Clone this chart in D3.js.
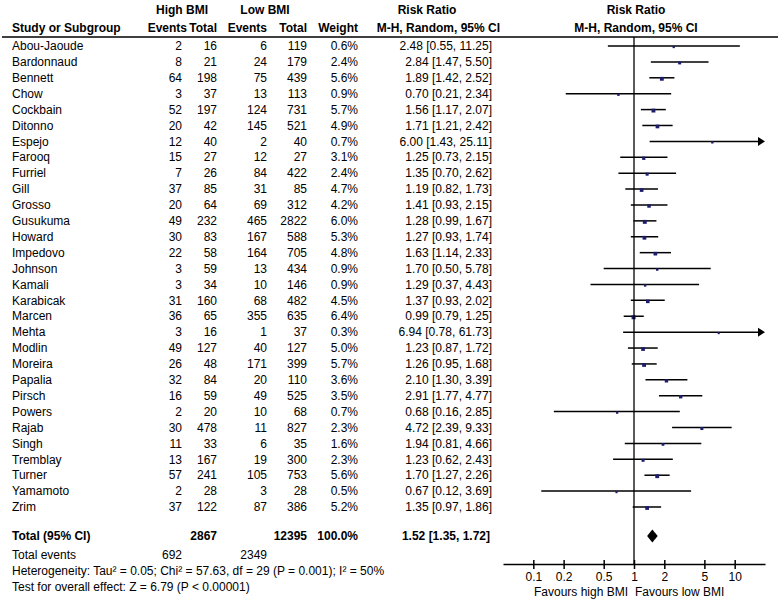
<!DOCTYPE html>
<html><head><meta charset="utf-8">
<script src="https://cdn.jsdelivr.net/npm/d3@7/dist/d3.min.js"></script>
<style>body{margin:0;background:#fff}svg{display:block;font-family:"Liberation Sans",Arial,sans-serif;font-size:12px}</style>
</head><body>
<script>
const studies = ["Abou-Jaoude","Bardonnaud","Bennett","Chow","Cockbain","Ditonno","Espejo","Farooq","Furriel","Gill","Grosso","Gusukuma","Howard","Impedovo","Johnson","Kamali","Karabicak","Marcen","Mehta","Modlin","Moreira","Papalia","Pirsch","Powers","Rajab","Singh","Tremblay","Turner","Yamamoto","Zrim"];
const highEvents = [2,8,64,3,52,20,12,15,7,37,20,49,30,22,3,3,31,36,3,49,26,32,16,2,30,11,13,57,2,37];
const highTotal = [16,21,198,37,197,42,40,27,26,85,64,232,83,58,59,34,160,65,16,127,48,84,59,20,478,33,167,241,28,122];
const lowEvents = [6,24,75,13,124,145,2,12,84,31,69,465,167,164,13,10,68,355,1,40,171,20,49,10,11,6,19,105,3,87];
const lowTotal = [119,179,439,113,731,521,40,27,422,85,312,2822,588,705,434,146,482,635,37,127,399,110,525,68,827,35,300,753,28,386];
const weights = [0.6,2.4,5.6,0.9,5.7,4.9,0.7,3.1,2.4,4.7,4.2,6.0,5.3,4.8,0.9,0.9,4.5,6.4,0.3,5.0,5.7,3.6,3.5,0.7,2.3,1.6,2.3,5.6,0.5,5.2];
const rr = [2.48,2.84,1.89,0.70,1.56,1.71,6.00,1.25,1.35,1.19,1.41,1.28,1.27,1.63,1.70,1.29,1.37,0.99,6.94,1.23,1.26,2.10,2.91,0.68,4.72,1.94,1.23,1.70,0.67,1.35];
const ciLow = [0.55,1.47,1.42,0.21,1.17,1.21,1.43,0.73,0.70,0.82,0.93,0.99,0.93,1.14,0.50,0.37,0.93,0.79,0.78,0.87,0.95,1.30,1.77,0.16,2.39,0.81,0.62,1.27,0.12,0.97];
const ciHigh = [11.25,5.50,2.52,2.34,2.07,2.42,25.11,2.15,2.62,1.73,2.15,1.67,1.74,2.33,5.78,4.43,2.02,1.25,61.73,1.72,1.68,3.39,4.77,2.85,9.33,4.66,2.43,2.26,3.69,1.86];
const total = {rr:1.52, lo:1.35, hi:1.72, highTotal:2867, lowTotal:12395, weight:"100.0%", highEvents:692, lowEvents:2349};
const axisTicks = [0.1,0.2,0.5,1,2,5,10];
const axisTickLabels = ["0.1","0.2","0.5","1","2","5","10"];

const W = 778, H = 600;
const svg = d3.select("body").append("svg").attr("width", W).attr("height", H);

const x = d3.scaleLog().domain([0.05, 20]).range([503, 765]);
const y = d3.scaleLinear().domain([0, studies.length - 1]).range([46, 507]);
const yTotal = 536, yAxis = 564;

const cols = {study:12, he:182, ht:217, le:267, lt:307, w:358, rr:492};

// headers
const hdr = svg.append("g").attr("font-weight", "bold");
hdr.append("text").attr("x", 182).attr("y", 14).attr("text-anchor","middle").text("High BMI");
hdr.append("text").attr("x", 265).attr("y", 14).attr("text-anchor","middle").text("Low BMI");
hdr.append("text").attr("x", 427).attr("y", 14).attr("text-anchor","middle").text("Risk Ratio");
hdr.append("text").attr("x", 636).attr("y", 14).attr("text-anchor","middle").text("Risk Ratio");
hdr.append("text").attr("x", cols.study).attr("y", 32).text("Study or Subgroup");
hdr.append("text").attr("x", 187).attr("y", 32).attr("text-anchor","end").text("Events");
hdr.append("text").attr("x", cols.ht).attr("y", 32).attr("text-anchor","end").text("Total");
hdr.append("text").attr("x", cols.le).attr("y", 32).attr("text-anchor","end").text("Events");
hdr.append("text").attr("x", cols.lt).attr("y", 32).attr("text-anchor","end").text("Total");
hdr.append("text").attr("x", cols.w).attr("y", 32).attr("text-anchor","end").text("Weight");
hdr.append("text").attr("x", 500).attr("y", 32).attr("text-anchor","end").text("M-H, Random, 95% CI");
hdr.append("text").attr("x", 636).attr("y", 32).attr("text-anchor","middle").text("M-H, Random, 95% CI");

svg.append("line").attr("x1", 2).attr("x2", 778).attr("y1", 37).attr("y2", 37).attr("stroke","#000").attr("stroke-width",1.5);

// rows
const rows = svg.append("g").selectAll("g").data(studies).join("g")
  .attr("transform", (d,i) => `translate(0,${y(i)})`);
rows.append("text").attr("x", cols.study).attr("dy","0.35em").text(d => d);
rows.append("text").attr("x", cols.he).attr("dy","0.35em").attr("text-anchor","end").text((d,i)=>highEvents[i]);
rows.append("text").attr("x", cols.ht).attr("dy","0.35em").attr("text-anchor","end").text((d,i)=>highTotal[i]);
rows.append("text").attr("x", cols.le).attr("dy","0.35em").attr("text-anchor","end").text((d,i)=>lowEvents[i]);
rows.append("text").attr("x", cols.lt).attr("dy","0.35em").attr("text-anchor","end").text((d,i)=>lowTotal[i]);
rows.append("text").attr("x", cols.w).attr("dy","0.35em").attr("text-anchor","end").text((d,i)=>weights[i].toFixed(1)+"%");
rows.append("text").attr("x", cols.rr).attr("dy","0.35em").attr("text-anchor","end")
  .text((d,i)=>`${rr[i].toFixed(2)} [${ciLow[i].toFixed(2)}, ${ciHigh[i].toFixed(2)}]`);

// null line
svg.append("line").attr("x1", x(1)).attr("x2", x(1)).attr("y1", 37).attr("y2", yAxis).attr("stroke","#000").attr("stroke-width",1.3);

// CI lines
const [xmin, xmax] = x.domain();
rows.append("line")
  .attr("x1", (d,i)=>x(Math.max(ciLow[i], xmin)))
  .attr("x2", (d,i)=>ciHigh[i] > xmax ? x(xmax) - 6 : x(ciHigh[i]))
  .attr("y1", 0).attr("y2", 0).attr("stroke","#000").attr("stroke-width",1.5);
rows.filter((d,i)=>ciHigh[i] > xmax).append("path")
  .attr("d", `M${x(xmax)},0 L${x(xmax)-7},-4.5 L${x(xmax)-7},4.5 Z`).attr("fill","#000");
const sz = d3.scaleSqrt().domain([0, 6.4]).range([1.5, 4]);
rows.append("rect")
  .attr("x", (d,i)=>x(rr[i]) - sz(weights[i])/2)
  .attr("y", (d,i)=> 1 - sz(weights[i])/2)
  .attr("width", (d,i)=>sz(weights[i])).attr("height", (d,i)=>sz(weights[i]))
  .attr("fill", "#1c1c6b");

// total row
const tg = svg.append("g").attr("font-weight","bold");
tg.append("text").attr("x", cols.study).attr("y", yTotal).attr("dy","0.35em").text("Total (95% CI)");
tg.append("text").attr("x", cols.ht).attr("y", yTotal).attr("dy","0.35em").attr("text-anchor","end").text(total.highTotal);
tg.append("text").attr("x", cols.lt).attr("y", yTotal).attr("dy","0.35em").attr("text-anchor","end").text(total.lowTotal);
tg.append("text").attr("x", cols.w).attr("y", yTotal).attr("dy","0.35em").attr("text-anchor","end").text(total.weight);
tg.append("text").attr("x", 490).attr("y", yTotal).attr("dy","0.35em").attr("text-anchor","end")
  .text(`${total.rr.toFixed(2)} [${total.lo.toFixed(2)}, ${total.hi.toFixed(2)}]`);
svg.append("path")
  .attr("d", `M${x(total.lo)},${yTotal} L${x(total.rr)},${yTotal-6.5} L${x(total.hi)},${yTotal} L${x(total.rr)},${yTotal+6.5} Z`)
  .attr("fill","#000");

svg.append("text").attr("x", cols.study).attr("y", 555).attr("dy","0.35em").text("Total events");
svg.append("text").attr("x", cols.he).attr("y", 555).attr("dy","0.35em").attr("text-anchor","end").text(total.highEvents);
svg.append("text").attr("x", cols.le).attr("y", 555).attr("dy","0.35em").attr("text-anchor","end").text(total.lowEvents);
svg.append("text").attr("x", cols.study).attr("y", 571).attr("dy","0.35em")
  .text("Heterogeneity: Tau² = 0.05; Chi² = 57.63, df = 29 (P = 0.001); I² = 50%");
svg.append("text").attr("x", cols.study).attr("y", 587).attr("dy","0.35em")
  .text("Test for overall effect: Z = 6.79 (P < 0.00001)");

// axis
const ax = svg.append("g").attr("transform", `translate(0,${yAxis})`)
  .call(d3.axisBottom(x).tickValues(axisTicks).tickFormat((d,i)=>axisTickLabels[i]).tickSize(5).tickSizeOuter(0).tickPadding(3));
ax.select(".domain").attr("stroke-width",1.5);
ax.selectAll(".tick line").attr("y1",-4).attr("stroke-width",1.5);
ax.selectAll(".tick text").attr("font-size",12).attr("font-family",'"Liberation Sans",Arial,sans-serif').attr("fill","#000");
svg.append("text").attr("x", 628).attr("y", 592).attr("dy","0.35em").attr("text-anchor","end").text("Favours high BMI");
svg.append("text").attr("x", 635).attr("y", 592).attr("dy","0.35em").text("Favours low BMI");
</script>
</body></html>
